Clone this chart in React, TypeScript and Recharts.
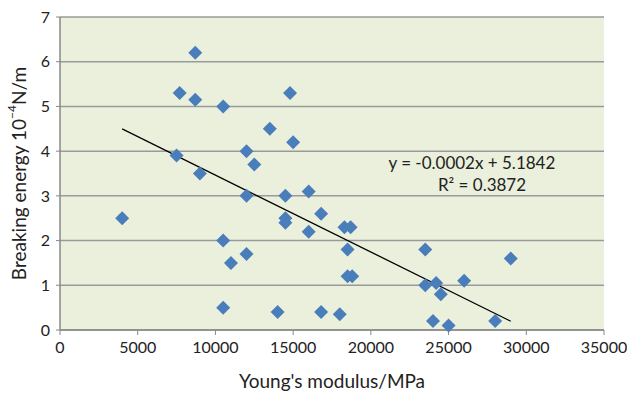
import React from 'react'
import { ScatterChart, Scatter, XAxis, YAxis, CartesianGrid, ReferenceLine, ReferenceDot, Label } from 'recharts'

const modulus = [
    4000, 7500, 7700, 8700, 8700, 9000, 10500, 10500, 10500, 11000, 12000, 12000, 12000, 12500, 13500,
    14000, 14500, 14500, 14500, 14800, 15000, 16000, 16000, 16800, 16800, 18000, 18300, 18700, 18500,
    18500, 18800, 23500, 23500, 24000, 24200, 24500, 25000, 26000, 28000, 29000,
]
const energy = [
    2.5, 3.9, 5.3, 6.2, 5.15, 3.5, 5.0, 2.0, 0.5, 1.5, 4.0, 3.0, 1.7, 3.7, 4.5,
    0.4, 3.0, 2.5, 2.4, 5.3, 4.2, 3.1, 2.2, 2.6, 0.4, 0.35, 2.3, 2.3, 1.8,
    1.2, 1.2, 1.8, 1.0, 0.2, 1.05, 0.8, 0.1, 1.1, 0.2, 1.6,
]
const xTicks = [0, 5000, 10000, 15000, 20000, 25000, 30000, 35000]
const yTicks = [0, 1, 2, 3, 4, 5, 6, 7]

// linear fit shown on the chart
const slope = -0.000172
const intercept = 5.1842
const fitRange = [4000, 29000]
const equationText = 'y = -0.0002x + 5.1842'
const r2Text = 'R² = 0.3872'

const points = modulus.map((x, i) => ({ x, y: energy[i] }))
const fit = (x: number) => slope * x + intercept

const FONT = 'Lato, "Open Sans", sans-serif'
const BLUE = '#4A7EBB'
const TEXT = '#222'

const Diamond = (props: any) => {
    const { cx, cy } = props
    const r = 7
    return <polygon points={`${cx},${cy - r} ${cx + r},${cy} ${cx},${cy + r} ${cx - r},${cy}`} fill={BLUE} />
}

// rotated y title with a real superscript exponent
const YTitle = (props: any) => {
    const { viewBox } = props
    const x = viewBox.x + 18
    const y = viewBox.y + viewBox.height / 2
    return (
        <text
            x={x}
            y={y}
            transform={`rotate(-90, ${x}, ${y})`}
            textAnchor="middle"
            dominantBaseline="central"
            style={{ fontFamily: FONT, fontSize: 19, fill: TEXT }}
        >
            Breaking energy 10
            <tspan dy={-7} fontSize={12}>−4</tspan>
            <tspan dy={7}>N/m</tspan>
        </text>
    )
}

const tickStyle = { fontFamily: FONT, fontSize: 16, fill: TEXT }

export default function App() {
    return (
        <div style={{ position: 'absolute', left: 0, top: 0, background: '#fff' }}>
            <ScatterChart width={627} height={393} margin={{ top: 17, right: 23, bottom: 0, left: 0 }}>
                <CartesianGrid vertical={false} stroke="#9a9a9a" strokeWidth={1.5} fill="#EAF0DC" />
                <XAxis
                    type="number"
                    dataKey="x"
                    domain={[0, 35000]}
                    ticks={xTicks}
                    height={63}
                    tick={tickStyle}
                    tickLine={{ stroke: '#888' }}
                    axisLine={{ stroke: '#888', strokeWidth: 1.5 }}
                    tickSize={5}
                    tickMargin={7}
                >
                    <Label value="Young's modulus/MPa" position="insideBottom" offset={5} style={{ fontFamily: FONT, fontSize: 19, fill: TEXT }} />
                </XAxis>
                <YAxis
                    type="number"
                    dataKey="y"
                    domain={[0, 7]}
                    ticks={yTicks}
                    width={60}
                    tick={tickStyle}
                    tickLine={{ stroke: '#888' }}
                    axisLine={{ stroke: '#888', strokeWidth: 1.5 }}
                    tickSize={4}
                    tickMargin={6}
                >
                    <Label content={<YTitle />} />
                </YAxis>
                <Scatter data={points} shape={<Diamond />} isAnimationActive={false} />
                <ReferenceLine
                    segment={[
                        { x: fitRange[0], y: fit(fitRange[0]) },
                        { x: fitRange[1], y: fit(fitRange[1]) },
                    ]}
                    stroke="#000"
                    strokeWidth={1.3}
                />
                <ReferenceDot x={26500} y={3.74} r={0} stroke="none" fill="none">
                    <Label value={equationText} position="center" style={{ fontFamily: FONT, fontSize: 17, fill: TEXT }} />
                </ReferenceDot>
                <ReferenceDot x={27150} y={3.24} r={0} stroke="none" fill="none">
                    <Label value={r2Text} position="center" style={{ fontFamily: FONT, fontSize: 17, fill: TEXT }} />
                </ReferenceDot>
            </ScatterChart>
        </div>
    )
}
